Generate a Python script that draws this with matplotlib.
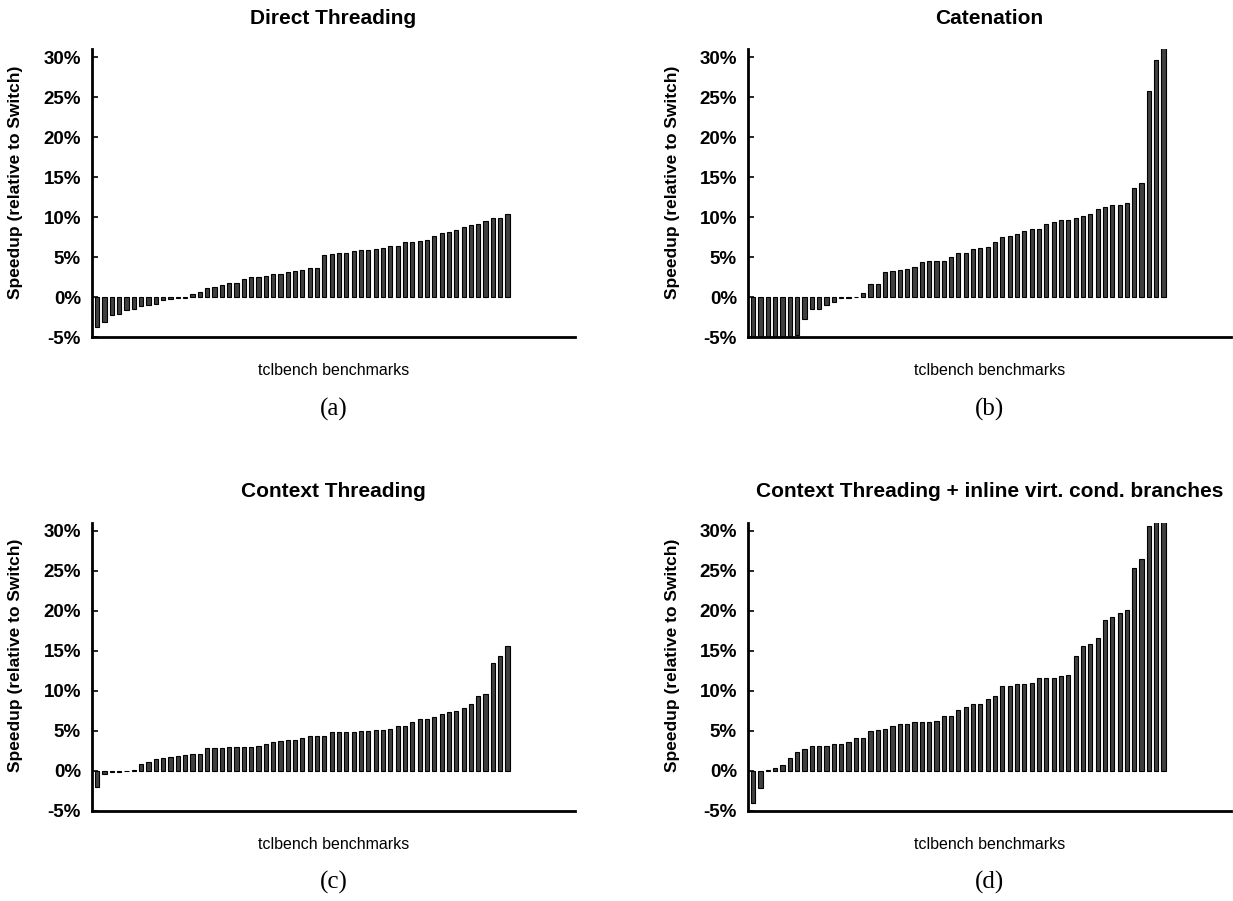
import matplotlib.pyplot as plt
import numpy as np

plt.rcParams['font.family'] = ['Liberation Sans', 'DejaVu Sans']

# speedup (%) per tclbench benchmark, sorted
direct_threading = [-3.7, -3.1, -2.25, -2.1, -1.6, -1.5, -1.05, -0.9, -0.85, -0.3,
                    -0.2, -0.1, -0.05, 0.4, 0.7, 1.2, 1.25, 1.6, 1.8, 1.8,
                    2.25, 2.6, 2.6, 2.65, 2.95, 2.9, 3.2, 3.25, 3.4, 3.65,
                    3.65, 5.25, 5.45, 5.55, 5.55, 5.85, 5.95, 5.95, 6.0, 6.2,
                    6.45, 6.45, 6.95, 6.95, 7.05, 7.2, 7.7, 8.0, 8.15, 8.4,
                    8.85, 9.1, 9.2, 9.6, 9.9, 9.9, 10.4]
catenation = [-6.0, -6.0, -6.0, -6.0, -6.0, -6.0, -4.7, -2.75, -1.4, -1.4,
              -0.9, -0.6, -0.05, -0.05, 0.1, 0.5, 1.7, 1.7, 3.2, 3.35,
              3.4, 3.6, 3.75, 4.45, 4.6, 4.6, 4.6, 5.0, 5.6, 5.6,
              6.0, 6.2, 6.25, 6.95, 7.6, 7.65, 7.95, 8.35, 8.6, 8.6,
              9.2, 9.4, 9.65, 9.7, 9.95, 10.15, 10.4, 11.0, 11.25, 11.5,
              11.6, 11.75, 13.65, 14.25, 25.8, 29.6, 31.5]
context_threading = [-2.0, -0.4, -0.15, -0.1, -0.05, 0.05, 0.9, 1.05, 1.45, 1.55,
                     1.7, 1.8, 1.95, 2.15, 2.15, 2.8, 2.8, 2.85, 2.95, 2.95,
                     2.95, 3.0, 3.15, 3.3, 3.55, 3.75, 3.8, 3.9, 4.15, 4.3,
                     4.4, 4.4, 4.8, 4.85, 4.85, 4.9, 5.0, 5.0, 5.15, 5.15,
                     5.2, 5.55, 5.55, 6.1, 6.5, 6.5, 6.7, 7.1, 7.4, 7.5,
                     7.8, 8.4, 9.35, 9.6, 13.5, 14.4, 15.6]
context_inline = [-4.0, -2.2, 0.15, 0.3, 0.75, 1.65, 2.3, 2.75, 3.05, 3.15,
                  3.15, 3.3, 3.4, 3.65, 4.15, 4.15, 4.95, 5.15, 5.25, 5.65,
                  5.85, 5.9, 6.1, 6.1, 6.1, 6.2, 6.85, 6.85, 7.55, 8.0,
                  8.3, 8.4, 8.95, 9.4, 10.6, 10.6, 10.8, 10.9, 10.95, 11.55,
                  11.6, 11.65, 11.9, 12.0, 14.4, 15.65, 15.8, 16.55, 18.9, 19.25,
                  19.7, 20.05, 25.3, 26.5, 30.6, 32.0, 33.0]

titles = ['Direct Threading', 'Catenation', 'Context Threading',
          'Context Threading + inline virt. cond. branches']
captions = ['(a)', '(b)', '(c)', '(d)']
yticks = [-5, 0, 5, 10, 15, 20, 25, 30]
ytick_labels = ['%d%%' % t for t in yticks]

W, H = 1233, 901
fig = plt.figure(figsize=(W / 100, H / 100), dpi=100)

def px(x, y):
    return x / W, 1 - y / H

series = [direct_threading, catenation, context_threading, context_inline]
# left edge and top edge of each panel in pixels
boxes = [(92, 49.3), (748, 49.3), (92, 522.7), (748, 522.7)]
ax_w, ax_h = 483, 288

for vals, title, cap, (left, top) in zip(series, titles, captions, boxes):
    l, b = px(left, top + ax_h)
    ax = fig.add_axes([l, b, ax_w / W, ax_h / H])
    x = np.arange(len(vals))
    ax.bar(x, vals, width=0.58, color='#404040', edgecolor='black', linewidth=0.8)
    ax.set_xlim(-0.7, -0.7 + ax_w / 7.33)
    ax.set_ylim(-5, 31)
    ax.set_yticks(yticks)
    ax.set_yticklabels(ytick_labels, fontweight='bold', fontsize=13.5)
    ax.set_xticks([])
    ax.tick_params(axis='y', direction='in', length=4, width=1.2, pad=8)
    for s in ['top', 'right']:
        ax.spines[s].set_visible(False)
    for s in ['left', 'bottom']:
        ax.spines[s].set_linewidth(2)

    cx = left + ax_w / 2
    fig.text(*px(cx, top - 31), title, ha='center', va='center',
             fontweight='bold', fontsize=15)
    fig.text(*px(left - 76, top + 133), 'Speedup (relative to Switch)',
             rotation=90, ha='center', va='center', fontweight='bold', fontsize=12.5)
    fig.text(*px(cx, top + 321.4), 'tclbench benchmarks', ha='center', va='center',
             fontsize=11.5)
    fig.text(*px(cx, top + 360), cap, ha='center', va='center', fontsize=18,
             family=['Liberation Serif', 'DejaVu Serif'])

plt.savefig('out.png', dpi=100)
